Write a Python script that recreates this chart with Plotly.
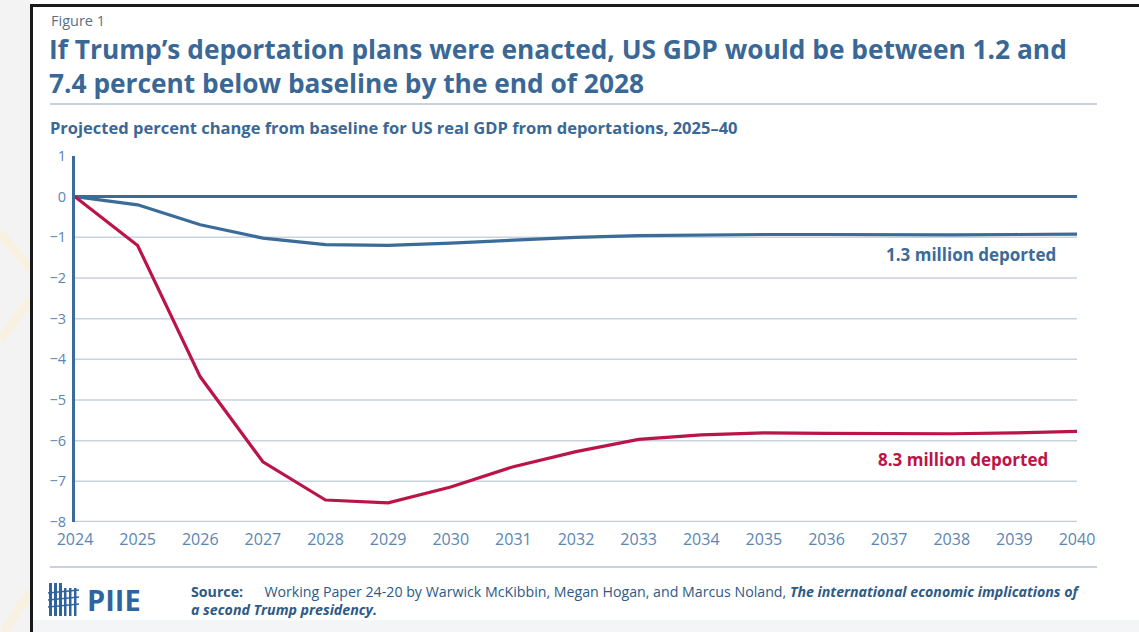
import plotly.graph_objects as go

years = list(range(2024, 2041))
low_scenario = [0, -0.2, -0.69, -1.02, -1.18, -1.2, -1.14, -1.07, -1.0, -0.96, -0.94, -0.93, -0.93, -0.94, -0.94, -0.93, -0.92]
high_scenario = [0, -1.2, -4.43, -6.52, -7.46, -7.53, -7.14, -6.64, -6.27, -5.97, -5.86, -5.81, -5.82, -5.83, -5.83, -5.81, -5.77]
y_ticks = [1, 0, -1, -2, -3, -4, -5, -6, -7, -8]
grid_vals = [-1, -2, -3, -4, -5, -6, -7]
tick_text = ["1", "0", "\u22121", "\u22122", "\u22123", "\u22124", "\u22125", "\u22126", "\u22127", "\u22128"]

W, H = 1139, 632
L, R, T, B = 75, 62, 156, 110
PW, PH = W - L - R, H - T - B

def px(x):
    return (x - L) / PW

def py(y):
    return (H - B - y) / PH

BLUE = "#3b6b98"
RED = "#bb1449"
TXT = "#3a6896"
TICK = "#5a86b3"
GRID = "#c7d2e3"
FONT = "Open Sans"
CREAM = "#f8f1e2"

fig = go.Figure()
fig.add_trace(go.Scatter(x=years, y=low_scenario, mode="lines",
                         line=dict(color=BLUE, width=3.2), hoverinfo="skip", showlegend=False))
fig.add_trace(go.Scatter(x=years, y=high_scenario, mode="lines",
                         line=dict(color=RED, width=3.2), hoverinfo="skip", showlegend=False))

shapes = []
# page background pieces
shapes.append(dict(type="rect", xref="paper", yref="paper", x0=px(0), x1=px(30), y0=py(H), y1=py(0),
                   fillcolor="#f3f3f3", line=dict(width=0), layer="below"))
shapes.append(dict(type="rect", xref="paper", yref="paper", x0=px(33), x1=px(W), y0=py(H), y1=py(620),
                   fillcolor="#f4f5f7", line=dict(width=0), layer="below"))
for (x0, y0, x1, y1) in ((0, 233, 30, 268), (0, 340, 30, 300), (4, 632, 30, 592)):
    shapes.append(dict(type="line", xref="paper", yref="paper", x0=px(x0), x1=px(x1), y0=py(y0), y1=py(y1),
                       line=dict(color=CREAM, width=9), layer="below"))
shapes.append(dict(type="line", xref="paper", yref="paper", x0=px(31.5), x1=px(31.5), y0=py(4), y1=py(H),
                   line=dict(color="#1a1a1a", width=3)))
shapes.append(dict(type="line", xref="paper", yref="paper", x0=px(30), x1=px(W), y0=py(5.5), y1=py(5.5),
                   line=dict(color="#1a1a1a", width=3)))
# separators
for yy in (104, 567):
    shapes.append(dict(type="line", xref="paper", yref="paper", x0=px(50), x1=px(1097), y0=py(yy), y1=py(yy),
                       line=dict(color="#c9d1dd", width=2)))
# gridlines
for g in grid_vals:
    shapes.append(dict(type="line", xref="paper", yref="y", x0=0, x1=1, y0=g, y1=g,
                       line=dict(color=GRID, width=1.5), layer="below"))
shapes.append(dict(type="line", xref="paper", yref="y", x0=0, x1=1, y0=-8, y1=-8,
                   line=dict(color="#c8ccd4", width=2.5), layer="below"))

# PIIE logo icon
for xx, w in ((49, 3), (54, 3), (59, 3), (64, 2.5), (69, 2.5), (74, 2.5)):
    top = 583 if xx < 62 else 588
    shapes.append(dict(type="rect", xref="paper", yref="paper", x0=px(xx), x1=px(xx + w), y0=py(616), y1=py(top),
                       fillcolor="#2f64a0", line=dict(width=0)))
for yy in (590, 597, 604):
    shapes.append(dict(type="line", xref="paper", yref="paper", x0=px(48), x1=px(79), y0=py(yy + 3), y1=py(yy),
                       line=dict(color="#2f64a0", width=1.5)))

annotations = []

def ann(x, y, text, size, color, xanchor="left", weight="normal", style="normal", align="left"):
    annotations.append(dict(x=px(x), y=py(y), xref="paper", yref="paper", text=text, showarrow=False,
                            xanchor=xanchor, yanchor="middle", align=align,
                            font=dict(family=FONT, size=size, color=color, weight=weight, style=style)))

ann(49, 20, "Figure 1", 14.5, "#5b6f86")
ann(47, 66, "If Trump\u2019s deportation plans were enacted, US GDP would be between 1.2 and<br>"
    "7.4 percent below baseline by the end of 2028", 26.3, TXT, weight="bold")
ann(48, 127, "Projected percent change from baseline for US real GDP from deportations, 2025\u201340", 16.5, TXT, weight="bold")
ann(971, 254, "1.3 million deported", 17, BLUE, xanchor="center", weight="bold")
ann(963, 459, "8.3 million deported", 17, RED, xanchor="center", weight="bold")
ann(85, 599, "PIIE", 29, "#2f64a0", weight="bold")
ann(189, 600, "<b>Source:</b>\u2003\u2002Working Paper 24-20 by Warwick McKibbin, Megan Hogan, and Marcus Noland, "
    "<b><i>The international economic implications of</i></b><br>"
    "<b><i>a second Trump presidency.</i></b>", 14.2, "#2d5a86")

fig.update_layout(
    width=W, height=H,
    margin=dict(l=L, r=R, t=T, b=B, pad=0),
    paper_bgcolor="white", plot_bgcolor="rgba(0,0,0,0)",
    shapes=shapes, annotations=annotations,
    font=dict(family=FONT, color=TICK),
    xaxis=dict(range=[2024, 2040], tickvals=years, ticktext=[str(y) for y in years],
               showgrid=False, zeroline=False, showline=False, ticks="",
               tickfont=dict(size=16, color=TICK), ticklabelstandoff=6, fixedrange=True),
    yaxis=dict(range=[-8, 1], tickvals=y_ticks, ticktext=tick_text,
               showgrid=False, zeroline=True, zerolinecolor=BLUE, zerolinewidth=2.5,
               showline=True, linecolor=BLUE, linewidth=3, ticks="",
               tickfont=dict(size=14.5, color=TICK), ticklabelstandoff=3, fixedrange=True),
)

fig.write_html("out.html", config={"displayModeBar": False},
               post_script="document.body.style.margin='0';document.body.style.padding='0';")
